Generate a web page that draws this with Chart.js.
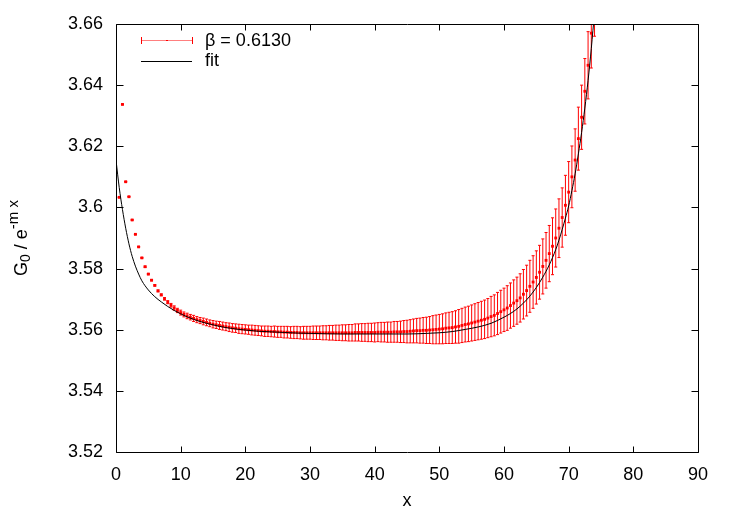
<!DOCTYPE html>
<html lang="en">
<head>
    <meta charset="UTF-8">
    <title>G0 / e^-mx fit</title>
    <script src="https://cdn.jsdelivr.net/npm/chart.js"></script>
    <style>
        body {
            margin: 0;
            background: #fff;
        }
    </style>
</head>
<body>
    <canvas id="fitChart" width="732" height="513"></canvas>

    <script>
        // data points (x, value, error)
        const xs = [
            0.5, 1.0, 1.5, 2.0, 2.5, 3.0, 3.5, 4.0, 4.5, 5.0,
            5.5, 6.0, 6.5, 7.0, 7.5, 8.0, 8.5, 9.0, 9.5, 10.0,
            10.5, 11.0, 11.5, 12.0, 12.5, 13.0, 13.5, 14.0, 14.5, 15.0,
            15.5, 16.0, 16.5, 17.0, 17.5, 18.0, 18.5, 19.0, 19.5, 20.0,
            20.5, 21.0, 21.5, 22.0, 22.5, 23.0, 23.5, 24.0, 24.5, 25.0,
            25.5, 26.0, 26.5, 27.0, 27.5, 28.0, 28.5, 29.0, 29.5, 30.0,
            30.5, 31.0, 31.5, 32.0, 32.5, 33.0, 33.5, 34.0, 34.5, 35.0,
            35.5, 36.0, 36.5, 37.0, 37.5, 38.0, 38.5, 39.0, 39.5, 40.0,
            40.5, 41.0, 41.5, 42.0, 42.5, 43.0, 43.5, 44.0, 44.5, 45.0,
            45.5, 46.0, 46.5, 47.0, 47.5, 48.0, 48.5, 49.0, 49.5, 50.0,
            50.5, 51.0, 51.5, 52.0, 52.5, 53.0, 53.5, 54.0, 54.5, 55.0,
            55.5, 56.0, 56.5, 57.0, 57.5, 58.0, 58.5, 59.0, 59.5, 60.0,
            60.5, 61.0, 61.5, 62.0, 62.5, 63.0, 63.5, 64.0, 64.5, 65.0,
            65.5, 66.0, 66.5, 67.0, 67.5, 68.0, 68.5, 69.0, 69.5, 70.0,
            70.5, 71.0, 71.5, 72.0, 72.5, 73.0, 73.5, 74.0
        ];
        const ys = [
            3.6033, 3.6337, 3.6084, 3.6035, 3.5959, 3.5912, 3.5871, 3.5835, 3.5806, 3.5782,
            3.5762, 3.5745, 3.5727, 3.5714, 3.5701, 3.5690, 3.5680, 3.5671, 3.5663, 3.5656,
            3.5650, 3.5645, 3.5641, 3.5637, 3.5633, 3.5630, 3.5627, 3.5624, 3.5621, 3.5618,
            3.5616, 3.5614, 3.5612, 3.5610, 3.5608, 3.5606, 3.5605, 3.5603, 3.5602, 3.5601,
            3.5600, 3.5599, 3.5598, 3.5597, 3.5596, 3.5595, 3.5595, 3.5594, 3.5594, 3.5593,
            3.5593, 3.5592, 3.5592, 3.5591, 3.5591, 3.5591, 3.5590, 3.5590, 3.5590, 3.5590,
            3.5590, 3.5590, 3.5590, 3.5590, 3.5590, 3.5590, 3.5590, 3.5590, 3.5590, 3.5590,
            3.5590, 3.5590, 3.5590, 3.5591, 3.5591, 3.5591, 3.5591, 3.5591, 3.5591, 3.5591,
            3.5592, 3.5592, 3.5592, 3.5592, 3.5592, 3.5593, 3.5593, 3.5593, 3.5594, 3.5594,
            3.5595, 3.5596, 3.5597, 3.5597, 3.5598, 3.5598, 3.5599, 3.5600, 3.5601, 3.5602,
            3.5603, 3.5605, 3.5606, 3.5607, 3.5609, 3.5611, 3.5614, 3.5617, 3.5619, 3.5622,
            3.5625, 3.5628, 3.5631, 3.5634, 3.5638, 3.5643, 3.5647, 3.5653, 3.5659, 3.5665,
            3.5671, 3.5679, 3.5687, 3.5695, 3.5704, 3.5716, 3.5728, 3.5742, 3.5756, 3.5771,
            3.5788, 3.5807, 3.5827, 3.5849, 3.5873, 3.5900, 3.5932, 3.5967, 3.6007, 3.6050,
            3.6100, 3.6155, 3.6225, 3.6295, 3.6380, 3.6465, 3.6570, 3.6680
        ];
        const errs = [
            0.0001, 0.0001, 0.0001, 0.0001, 0.0001, 0.0001, 0.0001, 0.0001, 0.0002, 0.0002,
            0.0002, 0.0002, 0.0003, 0.0003, 0.0004, 0.0005, 0.0006, 0.0007, 0.0007, 0.0008,
            0.0008, 0.0009, 0.0009, 0.0010, 0.0010, 0.0010, 0.0011, 0.0011, 0.0011, 0.0012,
            0.0012, 0.0013, 0.0013, 0.0013, 0.0014, 0.0014, 0.0014, 0.0015, 0.0015, 0.0015,
            0.0015, 0.0016, 0.0016, 0.0016, 0.0016, 0.0017, 0.0017, 0.0017, 0.0018, 0.0018,
            0.0018, 0.0019, 0.0019, 0.0019, 0.0020, 0.0020, 0.0020, 0.0021, 0.0021, 0.0021,
            0.0022, 0.0022, 0.0022, 0.0023, 0.0023, 0.0024, 0.0024, 0.0025, 0.0025, 0.0026,
            0.0026, 0.0027, 0.0027, 0.0028, 0.0028, 0.0029, 0.0029, 0.0030, 0.0030, 0.0031,
            0.0031, 0.0032, 0.0032, 0.0033, 0.0033, 0.0034, 0.0034, 0.0035, 0.0036, 0.0037,
            0.0038, 0.0039, 0.0040, 0.0041, 0.0042, 0.0043, 0.0044, 0.0046, 0.0047, 0.0048,
            0.0049, 0.0050, 0.0051, 0.0052, 0.0053, 0.0055, 0.0056, 0.0057, 0.0058, 0.0059,
            0.0060, 0.0061, 0.0062, 0.0063, 0.0064, 0.0066, 0.0067, 0.0069, 0.0070, 0.0071,
            0.0073, 0.0074, 0.0076, 0.0077, 0.0079, 0.0081, 0.0083, 0.0085, 0.0086, 0.0087,
            0.0088, 0.0090, 0.0091, 0.0092, 0.0093, 0.0095, 0.0096, 0.0097, 0.0098, 0.0100,
            0.0101, 0.0102, 0.0103, 0.0105, 0.0107, 0.0110, 0.0114, 0.0120
        ];

        // fit curve
        const fitX = [
            0, 0.5, 1, 1.5, 2, 2.5, 3, 3.5, 4, 5, 6, 7, 8, 9, 10, 11, 12, 13, 14, 15, 16,
            17, 18, 19, 20, 22, 24, 26, 28, 30, 35, 40, 45, 48, 50, 52, 54, 56, 58, 60, 61,
            62, 63, 64, 65, 66, 67, 68, 68.5, 69, 69.5, 70, 70.5, 71, 71.5, 72, 72.5, 73, 73.5, 74, 74.5
        ];
        const fitY = [
            3.6155, 3.6065, 3.5993, 3.5932, 3.5881, 3.5840, 3.5808, 3.5782, 3.5760, 3.5730,
            3.5708, 3.5691, 3.5676, 3.5663, 3.5652, 3.5642, 3.5634, 3.5627, 3.5621, 3.5616,
            3.5611, 3.5607, 3.5604, 3.5601, 3.5599, 3.5595, 3.5593, 3.5591, 3.5589, 3.5588,
            3.5586, 3.5586, 3.5586, 3.5588, 3.5590, 3.5594, 3.5601, 3.5609, 3.5621, 3.5641,
            3.5653, 3.5668, 3.5687, 3.5710, 3.5738, 3.5772, 3.5812, 3.5862, 3.5893, 3.5928,
            3.5965, 3.6005, 3.6055, 3.6110, 3.6175, 3.6245, 3.6325, 3.6415, 3.6520, 3.6640,
            3.6780
        ];

        const xTicks = [0, 10, 20, 30, 40, 50, 60, 70, 80, 90];
        const yTicks = [3.52, 3.54, 3.56, 3.58, 3.60, 3.62, 3.64, 3.66];
        const yTickLabels = ['3.52', '3.54', '3.56', '3.58', '3.6', '3.62', '3.64', '3.66'];

        const dataLabel = 'β = 0.6130';
        const fitLabel = 'fit';

        const FONT = '"Liberation Sans", Arial, Helvetica, sans-serif';

        // gnuplot style error bars under the points
        const errorBars = {
            id: 'errorBars',
            beforeDatasetsDraw(chart) {
                const { ctx, chartArea: a, scales: { x, y } } = chart;
                ctx.save();
                ctx.beginPath();
                ctx.rect(a.left, a.top, a.right - a.left, a.bottom - a.top);
                ctx.clip();
                ctx.strokeStyle = '#ff0000';
                ctx.lineWidth = 1;
                ctx.beginPath();
                xs.forEach((v, i) => {
                    const px = x.getPixelForValue(v);
                    const top = y.getPixelForValue(ys[i] + errs[i]);
                    const bot = y.getPixelForValue(ys[i] - errs[i]);
                    ctx.moveTo(px, top);
                    ctx.lineTo(px, bot);
                    ctx.moveTo(px - 1.5, top);
                    ctx.lineTo(px + 1.5, top);
                    ctx.moveTo(px - 1.5, bot);
                    ctx.lineTo(px + 1.5, bot);
                });
                ctx.stroke();
                ctx.restore();
            }
        };

        // frame, inward ticks, key and y title
        const frame = {
            id: 'frame',
            afterDraw(chart) {
                const { ctx, chartArea: a, scales: { x, y } } = chart;
                const L = Math.round(a.left) + 0.5, R = Math.round(a.right) + 0.5;
                const T = Math.round(a.top) + 0.5, B = Math.round(a.bottom) + 0.5;
                ctx.save();
                ctx.strokeStyle = '#000';
                ctx.lineWidth = 1;
                ctx.beginPath();
                ctx.rect(L, T, R - L, B - T);
                xTicks.forEach(v => {
                    const px = Math.round(x.getPixelForValue(v)) + 0.5;
                    ctx.moveTo(px, B); ctx.lineTo(px, B - 6);
                    ctx.moveTo(px, T); ctx.lineTo(px, T + 6);
                });
                yTicks.forEach(v => {
                    const py = Math.round(y.getPixelForValue(v)) + 0.5;
                    ctx.moveTo(L, py); ctx.lineTo(L + 7, py);
                    ctx.moveTo(R, py); ctx.lineTo(R - 7, py);
                });
                ctx.stroke();

                // key
                ctx.font = '18px ' + FONT;
                ctx.textBaseline = 'middle';
                ctx.textAlign = 'left';
                ctx.strokeStyle = 'rgba(255,0,0,0.5)';
                ctx.beginPath();
                ctx.moveTo(141, 40.5); ctx.lineTo(192, 40.5);
                ctx.stroke();
                ctx.strokeStyle = '#ff0000';
                ctx.beginPath();
                ctx.moveTo(141.5, 37); ctx.lineTo(141.5, 44);
                ctx.moveTo(192.5, 37); ctx.lineTo(192.5, 44);
                ctx.stroke();
                ctx.fillStyle = '#ff0000';
                ctx.fillRect(166, 40, 2, 1);
                ctx.fillStyle = '#000';
                ctx.fillText(dataLabel, 205, 41);
                ctx.strokeStyle = '#000';
                ctx.beginPath();
                ctx.moveTo(141, 61.5); ctx.lineTo(192, 61.5);
                ctx.stroke();
                ctx.fillText(fitLabel, 205, 61);

                // y axis title: G_0 / e^{-m x}
                const parts = [
                    { t: 'G', size: 18, dy: 0 },
                    { t: '0', size: 14, dy: 3 },
                    { t: ' / e', size: 18, dy: 0 },
                    { t: '-m x', size: 15, dy: -9 }
                ];
                let total = 0;
                parts.forEach(p => {
                    ctx.font = p.size + 'px ' + FONT;
                    p.w = ctx.measureText(p.t).width;
                    total += p.w;
                });
                ctx.translate(27, 238);
                ctx.rotate(-Math.PI / 2);
                ctx.textBaseline = 'alphabetic';
                let cx = -total / 2;
                parts.forEach(p => {
                    ctx.font = p.size + 'px ' + FONT;
                    ctx.fillText(p.t, cx, p.dy);
                    cx += p.w;
                });
                ctx.restore();
            }
        };

        const ctx = document.getElementById('fitChart').getContext('2d');
        new Chart(ctx, {
            type: 'scatter',
            data: {
                datasets: [
                    {
                        label: fitLabel,
                        data: fitX.map((v, i) => ({ x: v, y: fitY[i] })),
                        showLine: true,
                        borderColor: '#000',
                        borderWidth: 1,
                        pointRadius: 0,
                        cubicInterpolationMode: 'monotone',
                        order: 0
                    },
                    {
                        label: dataLabel,
                        data: xs.map((v, i) => ({ x: v, y: ys[i] })),
                        pointStyle: 'rect',
                        pointRadius: 2,
                        backgroundColor: '#ff0000',
                        borderWidth: 0,
                        order: 1
                    }
                ]
            },
            options: {
                responsive: false,
                animation: false,
                devicePixelRatio: 1,
                layout: { padding: { left: 0, top: 24, right: 34, bottom: 0 } },
                plugins: {
                    legend: { display: false },
                    tooltip: { enabled: false }
                },
                scales: {
                    x: {
                        type: 'linear',
                        min: 0,
                        max: 90,
                        afterBuildTicks: s => { s.ticks = xTicks.map(v => ({ value: v })); },
                        afterFit: s => { s.height = 61; },
                        grid: { display: false, drawTicks: false },
                        border: { display: false },
                        ticks: {
                            color: '#000',
                            padding: 12,
                            maxRotation: 0,
                            font: { family: FONT, size: 18 }
                        },
                        title: {
                            display: true,
                            text: 'x',
                            color: '#000',
                            padding: { top: 0, bottom: 1 },
                            font: { family: FONT, size: 18 }
                        }
                    },
                    y: {
                        type: 'linear',
                        min: 3.52,
                        max: 3.66,
                        afterBuildTicks: s => { s.ticks = yTicks.map(v => ({ value: v })); },
                        afterFit: s => { s.width = 116; },
                        grid: { display: false, drawTicks: false },
                        border: { display: false },
                        ticks: {
                            color: '#000',
                            padding: 13,
                            font: { family: FONT, size: 18 },
                            callback: (v, i) => yTickLabels[i]
                        }
                    }
                }
            },
            plugins: [errorBars, frame]
        });
    </script>
</body>
</html>
